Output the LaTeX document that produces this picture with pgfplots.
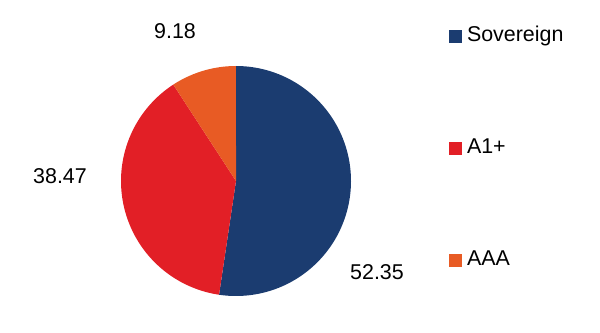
\documentclass[border=0pt]{standalone}
\usepackage{pgfplots}
\pgfplotsset{compat=1.18}
\usepackage{pgfplotstable}
\usepackage{fontspec}
\setmainfont{Liberation Sans}
\definecolor{cSov}{HTML}{1B3C70}
\definecolor{cA1}{HTML}{E21F26}
\definecolor{cAAA}{HTML}{E85B24}
\pgfplotstableread{
label value
Sovereign 52.35
A1+ 38.47
AAA 9.18
}\piedata
\pgfplotstablegetelem{0}{value}\of\piedata \let\vA\pgfplotsretval
\pgfplotstablegetelem{1}{value}\of\piedata \let\vB\pgfplotsretval
\pgfplotstablegetelem{2}{value}\of\piedata \let\vC\pgfplotsretval
\pgfmathsetmacro{\tot}{\vA+\vB+\vC}
\pgfmathsetmacro{\aA}{90-3.6*(\vA/\tot)*100}
\pgfmathsetmacro{\aB}{\aA-3.6*(\vB/\tot)*100}
\pgfmathsetmacro{\aC}{\aB-3.6*(\vC/\tot)*100}
\def\cx{236}\def\cy{151}\def\rr{115}
\newcommand{\lblfont}{\fontsize{21.5}{24}\selectfont}
\begin{document}
\begin{tikzpicture}
\begin{axis}[
  scale only axis, width=600bp, height=332bp,
  xmin=0, xmax=600, ymin=0, ymax=332,
  hide axis, clip=false,
  legend cell align=left,
  legend image code/.code={\fill[#1] (0bp,-6.5bp) rectangle (13bp,6.5bp);},
  legend style={draw=none, fill=none, at={(axis cs:449,306)}, anchor=north west,
    inner sep=0pt, outer sep=0pt, row sep=91bp,
    nodes={font=\lblfont, text height=15bp, text depth=5bp, inner ysep=0.5bp, inner xsep=5bp, anchor=west}},
]
\path[draw=none] (rel axis cs:0,0) rectangle (rel axis cs:1,1);
\addplot[fill=cSov, draw=none, domain=\aA:90, samples=120, variable=\t]
  ({\cx+\rr*cos(\t)},{\cy+\rr*sin(\t)}) -- (axis cs:\cx,\cy) -- cycle;
\addlegendentry{Sovereign}
\addplot[fill=cA1, draw=none, domain=\aB:\aA, samples=100, variable=\t]
  ({\cx+\rr*cos(\t)},{\cy+\rr*sin(\t)}) -- (axis cs:\cx,\cy) -- cycle;
\addlegendentry{A1+}
\addplot[fill=cAAA, draw=none, domain=\aC:\aB, samples=40, variable=\t]
  ({\cx+\rr*cos(\t)},{\cy+\rr*sin(\t)}) -- (axis cs:\cx,\cy) -- cycle;
\addlegendentry{AAA}
\node[font=\lblfont] at (axis cs:175,301) {9.18};
\node[font=\lblfont] at (axis cs:60,156) {38.47};
\node[font=\lblfont] at (axis cs:377,60) {52.35};
\end{axis}
\end{tikzpicture}
\end{document}
